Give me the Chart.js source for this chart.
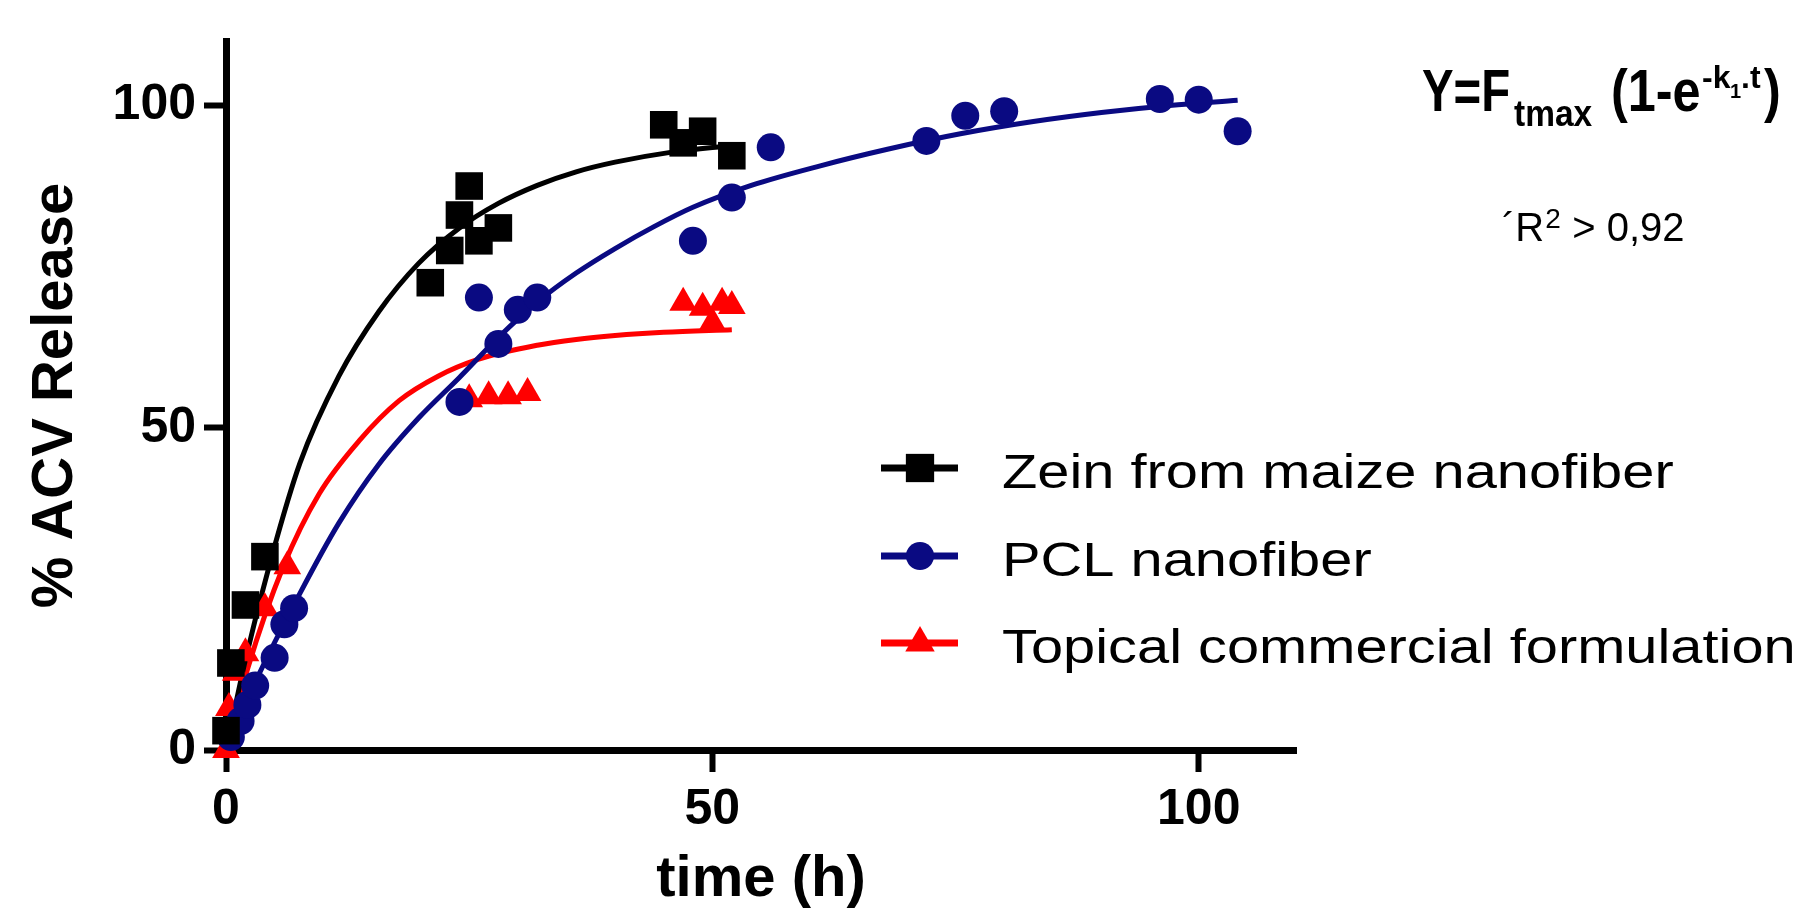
<!DOCTYPE html>
<html>
<head>
<meta charset="utf-8">
<title>ACV release</title>
<script src="https://cdn.jsdelivr.net/npm/chart.js@4.4.0/dist/chart.umd.min.js"></script>
<style>
  html, body { margin: 0; padding: 0; background: #fff; }
  #wrap { width: 1805px; height: 909px; position: relative; }
</style>
</head>
<body>
<div id="wrap"><canvas id="release"></canvas></div>
<script>
// measured points (time in h, % ACV released)
const zeinTime = [0, 0.5, 2, 4, 21, 23, 24, 25, 26, 28, 45, 47, 49, 52];
const zeinRelease = [3, 13.5, 22.5, 30, 72.5, 77.5, 83, 87.5, 79, 81, 97, 94.2, 96, 92.2];

const pclTime = [0.5, 1.5, 2.2, 3, 5, 6, 7, 24, 26, 28, 30, 32, 48, 52, 56, 72, 76, 80, 96, 100, 104];
const pclRelease = [2, 4.5, 7, 10, 14.3, 19.5, 22, 54, 70.2, 63, 68.3, 70.2, 79, 85.7, 93.5, 94.5, 98.4, 99.1, 101, 100.9, 96];

const topicalTime = [0, 0.3, 1, 2, 4, 6.3, 25, 27, 29, 31, 47, 49, 50, 51, 52];
const topicalRelease = [0, 6.5, 12, 15, 22, 28.5, 54.4, 54.9, 54.9, 55.4, 69.4, 68.6, 66.3, 69.4, 68.9];

// fitted curves
const zeinFitTime = [0, 2, 4.7, 7.6, 11.6, 15.7, 19.8, 24, 28, 32, 36, 40, 46, 52];
const zeinFitRelease = [0, 14, 30, 44.5, 58, 68, 75.5, 81, 84.8, 87.6, 89.7, 91.2, 92.8, 93.8];

const pclFitTime = [0, 3, 7.6, 11.6, 15.7, 19.8, 24, 28, 32, 36, 40, 44, 48, 54, 61, 68, 75.5, 83, 90, 97, 104];
const pclFitRelease = [0, 10.5, 24.3, 35.2, 44.3, 51.5, 57.8, 64, 69.5, 74, 77.8, 81.2, 84.2, 87.6, 90.6, 93.2, 95.6, 97.5, 98.9, 100, 100.8];

const topicalFitTime = [0, 2.2, 5.9, 9.6, 13.7, 17.8, 21.8, 25.9, 32, 36, 40, 45, 52];
const topicalFitRelease = [0, 12.5, 28.5, 39.8, 48, 54.2, 58, 60.6, 62.8, 63.7, 64.3, 64.8, 65.2];

const seriesNames = ['Zein from maize nanofiber', 'PCL nanofiber', 'Topical commercial formulation'];
const xTicks = [0, 50, 100];
const yTicks = [0, 50, 100];

const BLACK = '#000000';
const NAVY = '#0a0a82';
const RED = '#ff0000';
const FONT = 'Arial, "Liberation Sans", sans-serif';

const pts = (xs, ys) => xs.map((x, i) => ({ x: x, y: ys[i] }));

const pointSet = (label, xs, ys, color, style, r) => ({
  label: label,
  data: pts(xs, ys),
  showLine: false,
  pointStyle: style,
  pointRadius: r,
  pointHoverRadius: r,
  backgroundColor: color,
  borderColor: color,
  borderWidth: 0,
  clip: false
});

const fitSet = (xs, ys, color) => ({
  label: 'fit',
  data: pts(xs, ys),
  showLine: true,
  pointRadius: 0,
  borderColor: color,
  borderWidth: 5,
  cubicInterpolationMode: 'monotone',
  fill: false,
  clip: false
});

const legendRows = [
  { color: BLACK, style: 'rect', r: 20, y: 468 },
  { color: NAVY, style: 'circle', r: 14, y: 556 },
  { color: RED, style: 'triangle', r: 17, y: 643 }
];

// bits of the equation: text, font size, x, baseline shift, horizontal squeeze
const eqParts = [
  { t: 'Y=F', size: 60, x: 1422, dy: 0, sx: 0.79 },
  { t: 'tmax', size: 36, x: 1514, dy: 15, sx: 0.93 },
  { t: '(1-e', size: 60, x: 1611, dy: 0, sx: 0.84 },
  { t: '-k', size: 32, x: 1702, dy: -23, sx: 1 },
  { t: '1', size: 20, x: 1730, dy: -13, sx: 1 },
  { t: '.t', size: 32, x: 1741, dy: -23, sx: 1 },
  { t: ')', size: 60, x: 1764, dy: 0, sx: 0.84 }
];

const drawBits = (ctx, parts, weight, baseline) => {
  ctx.textBaseline = 'alphabetic';
  ctx.textAlign = 'left';
  ctx.fillStyle = '#000';
  parts.forEach(p => {
    ctx.save();
    ctx.translate(p.x, baseline + p.dy);
    ctx.scale(p.sx, 1);
    ctx.font = weight + p.size + 'px ' + FONT;
    ctx.fillText(p.t, 0, 0);
    ctx.restore();
  });
};

// legend + equation drawn next to the plot
const sideNotes = {
  id: 'sideNotes',
  afterDraw(chart) {
    const { ctx } = chart;
    ctx.save();
    legendRows.forEach((row, i) => {
      ctx.strokeStyle = row.color;
      ctx.lineWidth = 7;
      ctx.beginPath();
      ctx.moveTo(881, row.y);
      ctx.lineTo(958, row.y);
      ctx.stroke();
      ctx.fillStyle = row.color;
      Chart.helpers.drawPoint(ctx, { pointStyle: row.style, radius: row.r, borderWidth: 0, rotation: 0 }, 920, row.y);
      // the original lettering is a bit wider than Arial
      ctx.save();
      ctx.translate(1002, row.y + 20);
      ctx.scale(1.18, 1);
      ctx.fillStyle = '#000';
      ctx.font = '49px ' + FONT;
      ctx.textBaseline = 'alphabetic';
      ctx.textAlign = 'left';
      ctx.fillText(seriesNames[i], 0, 0);
      ctx.restore();
    });

    drawBits(ctx, eqParts, 'bold ', 111);

    ctx.font = '40px ' + FONT;
    const rW = ctx.measureText('\u00B4R').width;
    drawBits(ctx, [
      { t: '\u00B4R', size: 40, x: 1502, dy: 0, sx: 1 },
      { t: '2', size: 28, x: 1502 + rW + 1, dy: -13, sx: 1 },
      { t: '> 0,92', size: 40, x: 1502 + rW + 28, dy: 0, sx: 1 }
    ], '', 241);
    ctx.restore();
  }
};

const tickFont = { family: FONT, size: 50, weight: 'bold' };

new Chart(document.getElementById('release'), {
  type: 'scatter',
  data: {
    datasets: [
      pointSet(seriesNames[0], zeinTime, zeinRelease, BLACK, 'rect', 19.5),
      pointSet(seriesNames[1], pclTime, pclRelease, NAVY, 'circle', 14),
      pointSet(seriesNames[2], topicalTime, topicalRelease, RED, 'triangle', 16),
      fitSet(zeinFitTime, zeinFitRelease, BLACK),
      fitSet(pclFitTime, pclFitRelease, NAVY),
      fitSet(topicalFitTime, topicalFitRelease, RED)
    ]
  },
  options: {
    responsive: true,
    maintainAspectRatio: false,
    animation: false,
    layout: { padding: { top: 41, right: 509, bottom: 0, left: 0 } },
    plugins: {
      legend: { display: false },
      tooltip: { enabled: false }
    },
    scales: {
      x: {
        type: 'linear',
        min: 0,
        max: 110,
        afterFit(scale) { scale.height = 159; },
        afterBuildTicks(scale) { scale.ticks = xTicks.map(v => ({ value: v })); },
        border: { display: true, color: '#000', width: 7 },
        grid: { drawOnChartArea: false, drawTicks: true, tickLength: 22, tickWidth: 6, tickColor: '#000', color: '#000' },
        ticks: { color: '#000', font: tickFont, padding: 8, maxRotation: 0 },
        title: { display: true, text: 'time (h)', color: '#000', font: { family: FONT, size: 58, weight: 'bold', lineHeight: 1 }, padding: { top: 0, bottom: 0 } }
      },
      y: {
        type: 'linear',
        min: 0,
        max: 110,
        afterFit(scale) { scale.width = 226; },
        afterBuildTicks(scale) { scale.ticks = yTicks.map(v => ({ value: v })); },
        border: { display: true, color: '#000', width: 7 },
        grid: { drawOnChartArea: false, drawTicks: true, tickLength: 22, tickWidth: 6, tickColor: '#000', color: '#000' },
        ticks: { color: '#000', font: tickFont, padding: 8 },
        title: { display: true, text: '% ACV Release', color: '#000', font: { family: FONT, size: 58, weight: 'bold', lineHeight: 1 }, padding: { top: 27, bottom: 0 } }
      }
    }
  },
  plugins: [sideNotes]
});
</script>
</body>
</html>
